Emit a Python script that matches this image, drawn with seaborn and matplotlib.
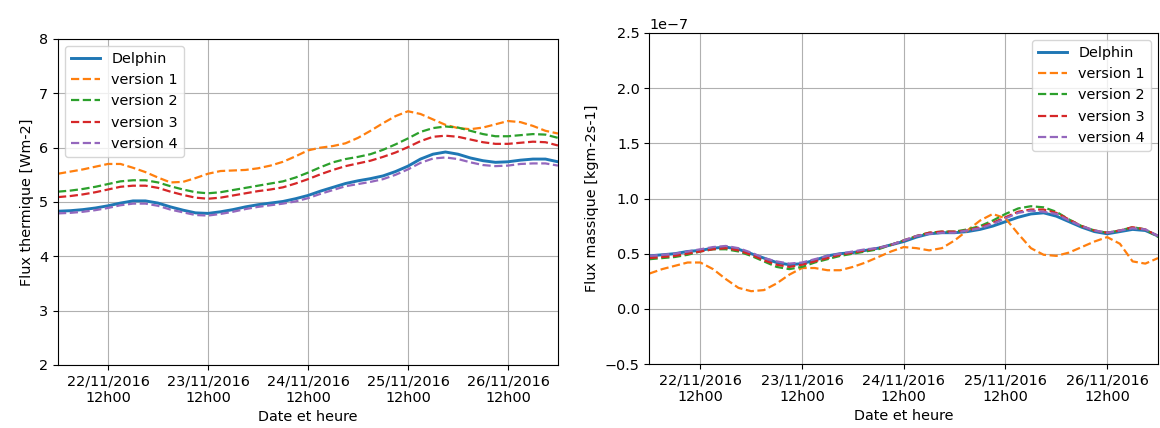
import matplotlib
matplotlib.use('Agg')
import matplotlib.pyplot as plt
import matplotlib.dates as mdates
import pandas as pd
import seaborn as sns

plt.rcParams['font.size'] = 10.4

# time axis: one reading every 3 hours, 22/11/2016 00h00 -> 27/11/2016 00h00
temps = pd.date_range('2016-11-22 00:00', '2016-11-27 00:00', freq='3h')

series_names = ['Delphin', 'version 1', 'version 2', 'version 3', 'version 4']

# heat flux [Wm-2]
therm_delphin = [4.83, 4.84, 4.86, 4.89, 4.93, 4.98, 5.02, 5.02, 4.98, 4.91,
                 4.85, 4.80, 4.79, 4.82, 4.86, 4.91, 4.95, 4.98, 5.01, 5.06,
                 5.12, 5.20, 5.27, 5.34, 5.39, 5.43, 5.48, 5.56, 5.66, 5.79,
                 5.88, 5.92, 5.88, 5.81, 5.76, 5.73, 5.74, 5.77, 5.79, 5.79, 5.74]
therm_v1 = [5.52, 5.56, 5.60, 5.65, 5.70, 5.70, 5.63, 5.55, 5.45, 5.36,
            5.37, 5.44, 5.52, 5.57, 5.58, 5.59, 5.62, 5.67, 5.74, 5.84,
            5.95, 6.00, 6.03, 6.08, 6.18, 6.31, 6.45, 6.58, 6.67, 6.62,
            6.52, 6.42, 6.36, 6.34, 6.37, 6.43, 6.49, 6.47, 6.40, 6.31, 6.26]
therm_v2 = [5.19, 5.21, 5.24, 5.28, 5.33, 5.38, 5.40, 5.40, 5.36, 5.29,
            5.23, 5.18, 5.16, 5.18, 5.22, 5.26, 5.30, 5.34, 5.38, 5.45,
            5.54, 5.64, 5.73, 5.79, 5.83, 5.88, 5.96, 6.06, 6.17, 6.29,
            6.36, 6.39, 6.37, 6.31, 6.25, 6.21, 6.21, 6.23, 6.25, 6.24, 6.18]
therm_v3 = [5.09, 5.11, 5.14, 5.18, 5.23, 5.28, 5.30, 5.30, 5.26, 5.19,
            5.13, 5.08, 5.06, 5.08, 5.12, 5.16, 5.20, 5.23, 5.27, 5.34,
            5.42, 5.51, 5.59, 5.66, 5.71, 5.76, 5.83, 5.91, 6.01, 6.12,
            6.20, 6.22, 6.20, 6.15, 6.10, 6.07, 6.07, 6.09, 6.11, 6.10, 6.04]
therm_v4 = [4.79, 4.80, 4.82, 4.85, 4.89, 4.94, 4.97, 4.97, 4.93, 4.86,
            4.81, 4.76, 4.75, 4.78, 4.82, 4.87, 4.91, 4.94, 4.97, 5.01,
            5.07, 5.15, 5.22, 5.29, 5.33, 5.37, 5.42, 5.50, 5.60, 5.72,
            5.80, 5.82, 5.79, 5.73, 5.68, 5.66, 5.67, 5.70, 5.71, 5.71, 5.67]

# mass flux [kgm-2s-1], in units of 1e-7
mass_delphin = [0.48, 0.49, 0.50, 0.52, 0.53, 0.55, 0.56, 0.54, 0.50, 0.46,
                0.42, 0.40, 0.41, 0.44, 0.48, 0.50, 0.51, 0.53, 0.55, 0.58,
                0.61, 0.65, 0.68, 0.69, 0.69, 0.70, 0.72, 0.75, 0.79, 0.83,
                0.86, 0.87, 0.84, 0.79, 0.74, 0.70, 0.68, 0.70, 0.72, 0.71, 0.66]
mass_v1 = [0.32, 0.36, 0.39, 0.42, 0.42, 0.36, 0.27, 0.19, 0.16, 0.17,
           0.23, 0.31, 0.37, 0.37, 0.35, 0.35, 0.38, 0.42, 0.47, 0.52,
           0.56, 0.55, 0.53, 0.55, 0.62, 0.71, 0.80, 0.86, 0.82, 0.68,
           0.55, 0.49, 0.48, 0.51, 0.56, 0.61, 0.65, 0.59, 0.43, 0.41, 0.46]
mass_v2 = [0.45, 0.46, 0.47, 0.49, 0.52, 0.54, 0.54, 0.52, 0.48, 0.43,
           0.38, 0.36, 0.38, 0.42, 0.45, 0.48, 0.50, 0.52, 0.54, 0.58,
           0.62, 0.66, 0.69, 0.70, 0.70, 0.72, 0.75, 0.80, 0.86, 0.91,
           0.93, 0.92, 0.88, 0.81, 0.75, 0.71, 0.69, 0.71, 0.74, 0.72, 0.65]
mass_v3 = [0.46, 0.47, 0.48, 0.50, 0.52, 0.54, 0.55, 0.53, 0.49, 0.44,
           0.40, 0.38, 0.40, 0.43, 0.46, 0.49, 0.51, 0.53, 0.55, 0.58,
           0.62, 0.66, 0.69, 0.70, 0.70, 0.71, 0.74, 0.78, 0.83, 0.88,
           0.90, 0.90, 0.87, 0.81, 0.75, 0.71, 0.69, 0.71, 0.74, 0.72, 0.66]
mass_v4 = [0.48, 0.49, 0.50, 0.52, 0.54, 0.56, 0.57, 0.55, 0.51, 0.46,
           0.43, 0.41, 0.42, 0.45, 0.48, 0.50, 0.52, 0.54, 0.55, 0.58,
           0.62, 0.66, 0.68, 0.69, 0.69, 0.71, 0.73, 0.77, 0.82, 0.87,
           0.89, 0.88, 0.86, 0.80, 0.75, 0.71, 0.69, 0.71, 0.73, 0.72, 0.66]

therm = [therm_delphin, therm_v1, therm_v2, therm_v3, therm_v4]
mass = [mass_delphin, mass_v1, mass_v2, mass_v3, mass_v4]

colors = ['tab:blue', 'tab:orange', 'tab:green', 'tab:red', 'tab:purple']
styles = ['-', '--', '--', '--', '--']
widths = [2.1, 1.6, 1.6, 1.6, 1.6]

fig = plt.figure(figsize=(11.6, 4.28), dpi=100)
ax1 = fig.add_axes([0.0500, 0.1472, 0.4310, 0.7617])
ax2 = fig.add_axes([0.5599, 0.1495, 0.4384, 0.7734])


def draw(ax, data, scale):
    for name, vals, c, ls, lw in zip(series_names, data, colors, styles, widths):
        sns.lineplot(x=temps, y=[v * scale for v in vals], ax=ax, label=name,
                     color=c, linestyle=ls, linewidth=lw)
    ax.set_xlim(temps[0], temps[-1])
    ax.xaxis.set_major_locator(mdates.HourLocator(byhour=[12]))
    ax.xaxis.set_major_formatter(mdates.DateFormatter('%d/%m/%Y\n%Hh%M'))
    ax.set_xlabel('Date et heure')
    ax.grid(True)


draw(ax1, therm, 1.0)
ax1.set_ylim(2, 8)
ax1.set_ylabel('Flux thermique [Wm-2]')
ax1.legend(loc='upper left')

draw(ax2, mass, 1e-7)
ax2.set_ylim(-0.5e-7, 2.5e-7)
ax2.set_yticks([-0.5e-7, 0, 0.5e-7, 1e-7, 1.5e-7, 2e-7, 2.5e-7])
ax2.set_ylabel('Flux massique [kgm-2s-1]')
ax2.legend(loc='upper right')

for ax in (ax1, ax2):
    for lab in ax.get_xticklabels():
        lab.set_horizontalalignment('center')

fig.savefig('out.png', dpi=100)
